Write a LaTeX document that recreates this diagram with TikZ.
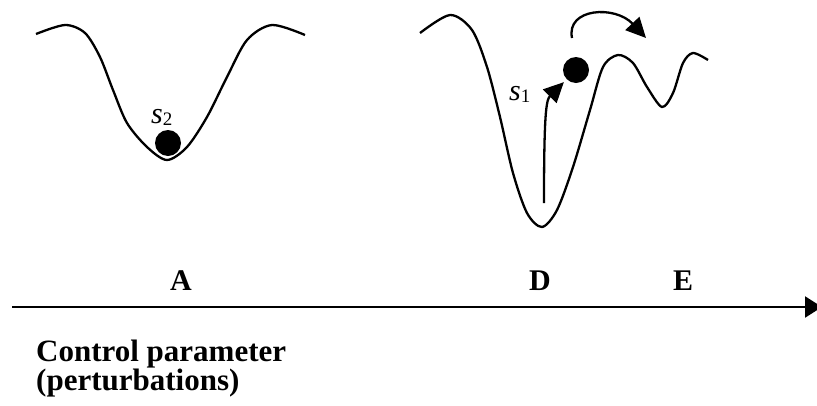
\documentclass[tikz,border=0pt]{standalone}
\usepackage{fontspec}
\setmainfont{Liberation Serif}
\usetikzlibrary{arrows.meta,positioning}

\newcommand{\statelbl}[1]{\textit{s}\raisebox{-0.08em}{\fontsize{19}{19}\selectfont #1}}

\begin{document}
\begin{tikzpicture}[
  x=1pt, y=-1pt,
  wellcurve/.style={
    line width=2.3pt,
    line join=round
  },
  ball/.style={
    circle,
    fill=black,
    inner sep=0pt,
    minimum size=26pt
  },
  statetext/.style={
    anchor=base west,
    inner sep=0pt,
    font=\fontsize{30}{30}\selectfont
  },
  casetext/.style={
    inner sep=0pt,
    font=\fontsize{30}{30}\selectfont\bfseries
  },
  jump/.style={
    line width=2.3pt,
    -{Triangle[length=20pt,width=19pt]}
  }
]
  \useasboundingbox (0,0) rectangle (817,405);

  \draw[wellcurve] plot[smooth] coordinates {
    (36,34) (65,25) (85,33) (100,57) (113,90) (127,123) (147,147)
    (167,160) (187,147) (207,117) (227,77) (247,40) (272,25) (305,35)};

  \draw[wellcurve] plot[smooth] coordinates {
    (420,33) (450,15) (472,30) (487,67) (500,117) (513,173) (527,213)
    (542,227) (557,210) (573,167) (590,110) (603,67) (618,55) (633,63)
    (647,87) (662,107) (673,93) (683,63) (693,53) (708,60)};

  \node[ball] (ballA) at (168,143) {};
  \node[ball] (ballD) at (576,70) {};

  \node[statetext] (lblA) at (151,123) {\statelbl{2}};
  \node[statetext] (lblD) at (509,100) {\statelbl{1}};

  \coordinate (climbfrom) at (544,203);
  \coordinate (hopfrom) at (572,38);
  \coordinate (hopto) at (646,38);

  \draw[jump,shorten >=4pt] (climbfrom) .. controls (544,115) and (546,100) .. (ballD);
  \draw[jump] (hopfrom) .. controls (566,8) and (615,5) .. (hopto);

  \coordinate (axisfrom) at (12,307);
  \coordinate (axisto) at (822,307);
  \draw[line width=2.3pt,-{Triangle[length=17pt,width=21pt]}] (axisfrom) -- (axisto);

  \node[casetext] (caseA) at (181,281) {A};
  \node[casetext] (caseD) at (540,281) {D};
  \node[casetext] (caseE) at (683,281) {E};

  \node[
    anchor=north west,
    inner sep=0pt,
    align=left,
    font=\fontsize{31}{28}\selectfont\bfseries
  ] (param) at (36,340) {Control parameter\\(perturbations)};
\end{tikzpicture}
\end{document}
